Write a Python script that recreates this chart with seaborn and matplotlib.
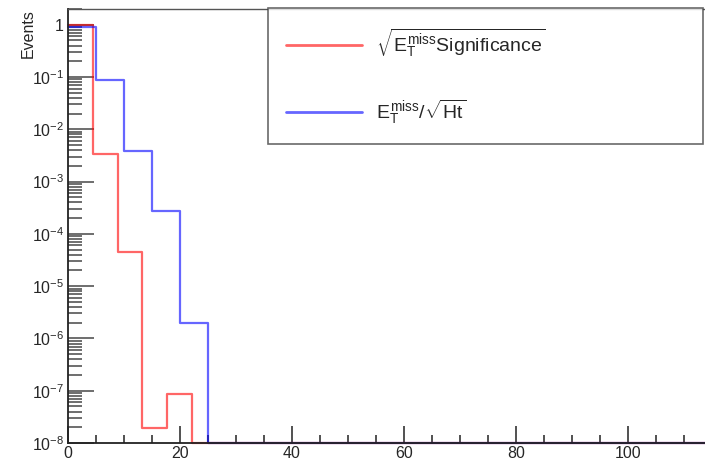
import numpy as np
import pandas as pd
import matplotlib
matplotlib.use("Agg")
import matplotlib.pyplot as plt
import matplotlib.ticker as mticker
import seaborn as sns

# histogram contents (normalised, zero bins drawn at the floor)
sig_width = 4.42
sig_counts = [0.9966, 3.35e-3, 4.5e-5, 1.92e-8, 8.7e-8] + [0.0] * 21
ht_width = 5.0
ht_counts = [0.908, 0.088, 3.8e-3, 2.74e-4, 1.94e-6] + [0.0] * 18

sig_label = r"$\sqrt{E_{T}^{miss}\mathrm{Significance}}$"
ht_label = r"$E_{T}^{miss}/\sqrt{\mathrm{Ht}}$"

x_max = 113.75
y_min, y_max = 1e-8, 2.0

sns.set_theme(style="white")
plt.rcParams["font.family"] = ["Liberation Sans", "DejaVu Sans"]
plt.rcParams["mathtext.fontset"] = "custom"
plt.rcParams["mathtext.rm"] = "Liberation Sans"
plt.rcParams["mathtext.it"] = "Liberation Sans"
plt.rcParams["mathtext.bf"] = "Liberation Sans:bold"


def to_steps(counts, width):
    edges = np.arange(len(counts) + 1) * width
    vals = np.clip(np.array(counts, dtype=float), y_min, None)
    vals = np.append(vals, vals[-1])
    return pd.DataFrame({"x": edges, "y": vals})


fig = plt.figure(figsize=(7.05, 4.67), dpi=100)
ax = fig.add_axes([68 / 705, 1 - 443 / 467, 1 - 68 / 705, (443 - 9) / 467])

df_sig = to_steps(sig_counts, sig_width)
df_ht = to_steps(ht_counts, ht_width)

sns.lineplot(data=df_sig, x="x", y="y", ax=ax, drawstyle="steps-post",
             color="red", alpha=0.6, lw=1.6, label=sig_label, clip_on=False,
             estimator=None, sort=False)
sns.lineplot(data=df_ht, x="x", y="y", ax=ax, drawstyle="steps-post",
             color="blue", alpha=0.6, lw=1.6, label=ht_label, clip_on=False,
             estimator=None, sort=False)

ax.set_yscale("log")
ax.set_xlim(0, x_max)
ax.set_ylim(y_min, y_max)

# ROOT-like axes
for s in ["left", "bottom", "top"]:
    ax.spines[s].set_color("#222222")
    ax.spines[s].set_linewidth(1.3)
ax.spines["top"].set_color("#555555")
ax.spines["top"].set_linewidth(1.0)
ax.spines["right"].set_visible(False)

ax.xaxis.set_major_locator(mticker.MultipleLocator(20))
ax.xaxis.set_minor_locator(mticker.MultipleLocator(5))
ax.yaxis.set_major_locator(mticker.LogLocator(base=10, numticks=20))
ax.yaxis.set_minor_locator(mticker.LogLocator(base=10, subs=np.arange(2, 10), numticks=20))
ax.yaxis.set_minor_formatter(mticker.NullFormatter())


def ylab(v, pos):
    e = int(round(np.log10(v)))
    if e == 0:
        return "1"
    return r"$10^{%d}$" % e


ax.yaxis.set_major_formatter(mticker.FuncFormatter(ylab))
ax.tick_params(axis="x", which="major", direction="in", length=12, width=1.2,
               color="#333333", labelsize=11.5, pad=2, bottom=True, top=False)
ax.tick_params(axis="x", which="minor", direction="in", length=6, width=1.2,
               color="#333333", bottom=True, top=False)
ax.tick_params(axis="y", which="major", direction="in", length=19, width=1.2,
               color="#555555", labelsize=11.5, pad=3, left=True, right=False)
ax.tick_params(axis="y", which="minor", direction="in", length=10, width=1.2,
               color="#555555", left=True, right=False)

ax.set_xlabel("")
ax.set_ylabel("Events", fontsize=11.5, loc="top", labelpad=-3)

leg = ax.legend(loc="upper left",
                bbox_to_anchor=(268 / 705, 1 - 8 / 467, (703 - 268) / 705, 0),
                bbox_transform=fig.transFigure, mode="expand",
                borderaxespad=0, fancybox=False, frameon=True,
                fontsize=14, handlelength=3.9, handletextpad=0.7,
                labelspacing=2.0, borderpad=0.95)
leg.get_frame().set_edgecolor("#444444")
leg.get_frame().set_linewidth(1.2)
for h in leg.get_lines():
    h.set_linewidth(2)

fig.savefig("out.png", dpi=100)
